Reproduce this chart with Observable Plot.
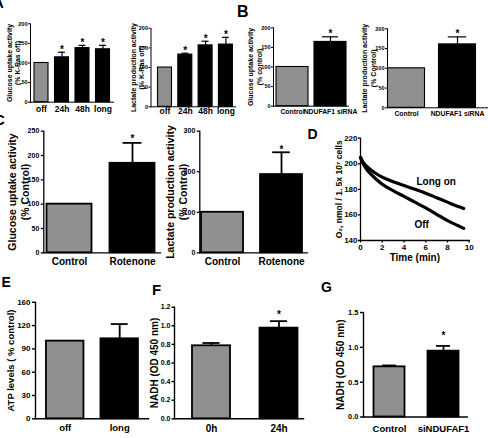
<!DOCTYPE html>
<html>
<head>
<meta charset="utf-8">
<script src="https://cdn.jsdelivr.net/npm/d3@7"></script>
<script src="https://cdn.jsdelivr.net/npm/@observablehq/plot@0.6"></script>
<style>
html, body { margin: 0; padding: 0; background: #fff; }
#fig { position: relative; width: 488px; height: 438px; overflow: hidden; background: #fff;
       font-family: "Liberation Sans", Arial, Helvetica, sans-serif; }
.letter { position: absolute; font-weight: bold; line-height: 1; color: #000; }
</style>
</head>
<body>
<div id="fig"></div>
<script>
// ---------------- DATA ----------------
// Panel A
const aCategories = ["off", "24h", "48h", "long"];
const aGlucose = [100, 114.5, 138, 135];
const aGlucoseSem = [0, 13, 7, 10];
const aLactate = [100, 133, 156.5, 158.5];
const aLactateSem = [0, 3.5, 10.5, 18.5];
const aStars = [false, true, true, true];
const aTicks = [0, 50, 100, 150, 200];
const aTickLabels = ["0", "50", "100", "150", "200"];
const aGlucoseLabel = "Glucose uptake activity\n(% K-Ras off)";
const aLactateLabel = "Lactate production activity\n(% K-Ras off)";

// Panel B
const bCategories = ["Control", "NDUFAF1 siRNA"];
const bGlucose = [100, 164];
const bGlucoseSem = [0, 13];
const bLactate = [100, 160.5];
const bLactateSem = [0, 19];
const bStars = [false, true];
const bTicks = [0, 50, 100, 150, 200];
const bTickLabels = ["0", "50", "100", "150", "200"];
const bGlucoseLabel = "Glucose uptake activity\n(% control)";
const bLactateLabel = "Lactate production activity\n(% Control)";

// Panel C
const cCategories = ["Control", "Rotenone"];
const cGlucose = [100, 184];
const cGlucoseSem = [0, 42];
const cLactate = [100, 193];
const cLactateSem = [0, 55];
const cStars = [false, true];
const cGlucoseTicks = [0, 50, 100, 150, 200, 250];
const cGlucoseTickLabels = ["0", "50", "100", "150", "200", "250"];
const cLactateTicks = [0, 100, 200, 300];
const cLactateTickLabels = ["0", "100", "200", "300"];
const cGlucoseLabel = "Glucose uptake activity\n(% Control)";
const cLactateLabel = "Lactate production activity\n(% Control)";

// Panel D
const dTime = [0, 0.25, 0.5, 1, 1.5, 2, 3, 4, 5, 6, 7, 8, 9, 9.5];
const dLongOn = [205, 201, 198.5, 195, 192, 189.5, 186, 183, 180, 177, 173.5, 170, 166.5, 165];
const dOff = [205, 200, 196.5, 191.5, 187.5, 184, 179, 174.5, 170, 165.5, 160.5, 155.5, 151.5, 149.5];
const dSeriesNames = ["Long on", "Off"];
const dSeriesLabelX = [6.96, 5.63];
const dSeriesLabelY = [185.6, 152.4];
const dXTicks = [0, 2, 4, 6, 8, 10];
const dYTicks = [140, 160, 180, 200, 220];
const dXLabel = "Time (min)";
const dYLabel = "O\u2082, nmol / 1. 5x 10\u2077 cells";

// Panel E
const eCategories = ["off", "long"];
const eAtp = [100, 103];
const eAtpSem = [0, 19];
const eStars = [false, false];
const eTicks = [0, 30, 60, 90, 120, 150];
const eTickLabels = ["0", "30", "60", "90", "120", "160"];
const eLabel = "ATP levels ( % control)";

// Panel F
const fCategories = ["0h", "24h"];
const fNadh = [0.785, 0.975];
const fNadhSem = [0.03, 0.075];
const fStars = [false, true];
const fTicks = [0, 0.2, 0.4, 0.6, 0.8, 1.0, 1.2];
const fTickLabels = ["0.0", "0.2", "0.4", "0.6", "0.8", "1.0", "1.2"];
const fLabel = "NADH (OD 450 nm)";

// Panel G
const gCategories = ["Control", "siNDUFAF1"];
const gNadh = [0.72, 0.945];
const gNadhSem = [0.02, 0.075];
const gStars = [false, true];
const gTicks = [0, 0.5, 1.0, 1.5];
const gTickLabels = ["0.0", "0.5", "1.0", "1.5"];
const gLabel = "NADH (OD 450 nm)";

const panelLetters = ["A", "B", "C", "D", "E", "F", "G"];

// ---------------- LAYOUT / STYLE ----------------
const FONT = "'Liberation Sans', Arial, Helvetica, sans-serif";
const GRAY = "#909090";
const fig = document.getElementById("fig");

const small = {capFrac: 0.5, fsTick: 5.5, fsX: 8.5, fsY: 7, fsStar: 10, tickSize: 2, tickPad: 1, lineH: 1.2, aw: 1, sw: 1.1, ew: 1.2};
const big = {capFrac: 0.42, fsTick: 7, fsX: 10, fsY: 10.5, fsStar: 10, tickSize: 2.5, tickPad: 2, lineH: 1.17, aw: 1.3, sw: 1.8, ew: 1.8};
const low = {capFrac: 0.45, fsTick: 7.5, fsX: 9.5, fsY: 9.5, fsStar: 10, tickSize: 3, tickPad: 2, lineH: 1.2, aw: 1.4, sw: 1.8, ew: 1.8};

const layA1 = {...small, box: {left: 0, top: 8, width: 118, height: 108}, L: 30, R: 113, yTop: 23.3, y0: 101.7, c0: 41, s: 20.5, w: 14, xPad: 3.5, ylabelX: 12.8, lineH: 1.19, starGap: 5.5};
const layA2 = {...small, box: {left: 118, top: 8, width: 122, height: 108}, L: 150.5, R: 235, yTop: 27.8, y0: 106.3, c0: 164.5, s: 20.3, w: 14, xPad: 1.5, ylabelX: 136.5, lineH: 1.19, starGap: 5};
const layB1 = {...small, fsX: 6.8, box: {left: 243, top: 8, width: 108, height: 108}, L: 273, R: 348, yTop: 27.3, y0: 105.7, c0: 292, s: 38, w: 32, xPad: 3.3, ylabelX: 254.5, lineH: 1.24, starGap: 6};
const layB2 = {...small, fsX: 6.8, box: {left: 355, top: 8, width: 133, height: 108}, L: 387, R: 488, yTop: 28.3, y0: 107.3, c0: 406, s: 51, w: 37, xPad: 3.3, ylabelX: 368, lineH: 1.24, starGap: 5.3};
const layC1 = {...big, box: {left: 0, top: 118, width: 165, height: 152}, L: 43.3, R: 160, yTop: 130.7, y0: 252.3, c0: 69, s: 63, w: 45, xPad: 5.5, ylabelX: 18, starGap: 6.3};
const layC2 = {...big, box: {left: 165, top: 118, width: 146, height: 152}, L: 199.3, R: 306.7, yTop: 130.7, y0: 252.3, c0: 222, s: 59, w: 42, xPad: 5.5, ylabelX: 176, starGap: 5.5};
const layE = {...low, fsTick: 8, box: {left: 0, top: 292, width: 150, height: 146}, L: 35, R: 148, yTop: 301.8, y0: 418.3, c0: 64.7, s: 54.5, w: 37.5, xPad: 5.5, ylabelX: 10, starGap: 6};
const layF = {...low, fsTick: 7, fsX: 10, fsY: 10, box: {left: 140, top: 292, width: 168, height: 146}, L: 174, R: 303, yTop: 306.7, y0: 418.3, c0: 211, s: 67.5, w: 38, tickSize: 2.5, tickPad: 1.5, xPad: 6.5, ylabelX: 153.5, starGap: 9};
const layG = {...low, fsY: 10, box: {left: 325, top: 296, width: 163, height: 142}, L: 363, R: 466.7, yTop: 312, y0: 416.5, c0: 389, s: 54, w: 31, xPad: 8.5, ylabelX: 339.5, starGap: 13};
const layD = {box: {left: 318, top: 125, width: 170, height: 145}, L: 360, R: 468.7, yTop: 137.7, y0: 240};

const letterLayout = [
  {left: -7, capTop: -3, size: 15},
  {left: 237, capTop: 6.5, size: 16},
  {left: -6, capTop: 114, size: 15},
  {left: 307.5, capTop: 128.5, size: 14},
  {left: 1.5, capTop: 276.5, size: 14},
  {left: 152, capTop: 283.5, size: 15},
  {left: 321, capTop: 281.7, size: 14}
];

function place(node, box) {
  node.style.position = "absolute";
  node.style.left = box.left + "px";
  node.style.top = box.top + "px";
  fig.appendChild(node);
}

function plotStyle() {
  return {background: "transparent", overflow: "visible", fontFamily: FONT, maxWidth: "none", color: "#000"};
}

function barPanel(cats, vals, sems, stars, ticks, tickLabels, ylabel, lay) {
  const n = cats.length;
  const gapL = lay.c0 - lay.w / 2 - lay.L;
  const gapR = lay.R - (lay.c0 + (n - 1) * lay.s + lay.w / 2);
  const paddingInner = (lay.s - lay.w) / lay.s;
  const paddingOuter = Math.max(0, (gapL + gapR) / (2 * lay.s));
  const align = gapL + gapR > 0 ? Math.min(1, Math.max(0, gapL / (gapL + gapR))) : 0.5;
  const rows = cats.map((c, i) => ({cat: c, i, v: vals[i], top: vals[i] + sems[i], sem: sems[i], star: stars[i]}));
  const errRows = rows.filter(d => d.sem > 0);
  const starRows = rows.filter(d => d.star);
  const capInset = lay.w * (1 - lay.capFrac) / 2;
  const labelMap = new Map(ticks.map((t, i) => [t, tickLabels[i]]));
  const b = lay.box;
  const node = Plot.plot({
    width: b.width,
    height: b.height,
    marginLeft: lay.L - b.left,
    marginRight: b.left + b.width - lay.R,
    marginTop: lay.yTop - b.top,
    marginBottom: b.top + b.height - lay.y0,
    style: plotStyle(),
    x: {type: "band", domain: cats, paddingInner, paddingOuter, align, round: false},
    y: {domain: [0, ticks[ticks.length - 1]]},
    marks: [
      Plot.barY(rows.filter(d => d.i === 0), {x: "cat", y: "v", fill: GRAY, stroke: "#000", strokeWidth: lay.sw}),
      Plot.barY(rows.filter(d => d.i > 0), {x: "cat", y: "v", fill: "#000", stroke: "#000", strokeWidth: lay.sw}),
      Plot.ruleX(errRows, {x: "cat", y1: "v", y2: "top", stroke: "#000", strokeWidth: lay.ew}),
      Plot.tickY(errRows, {x: "cat", y: "top", stroke: "#000", strokeWidth: lay.ew, insetLeft: capInset, insetRight: capInset}),
      Plot.text(starRows, {x: "cat", y: "top", text: () => "*", dy: -lay.starGap + 0.26 * lay.fsStar, fontSize: lay.fsStar, fontWeight: "bold"}),
      Plot.frame({anchor: "left", stroke: "#000", strokeWidth: lay.aw}),
      Plot.frame({anchor: "bottom", stroke: "#000", strokeWidth: lay.aw}),
      Plot.axisY({ticks, tickFormat: d => labelMap.get(d), tickSize: lay.tickSize, tickPadding: lay.tickPad, fontSize: lay.fsTick, fontWeight: "bold", label: null, strokeWidth: lay.aw}),
      Plot.axisX({tickSize: 0, tickPadding: lay.xPad, fontSize: lay.fsX, fontWeight: "bold", label: null}),
      Plot.text([ylabel], {text: d => d, frameAnchor: "left", dx: lay.ylabelX - lay.L, rotate: -90, fontSize: lay.fsY, fontWeight: "bold", lineHeight: lay.lineH, lineAnchor: "middle", textAnchor: "middle"})
    ]
  });
  place(node, b);
}

barPanel(aCategories, aGlucose, aGlucoseSem, aStars, aTicks, aTickLabels, aGlucoseLabel, layA1);
barPanel(aCategories, aLactate, aLactateSem, aStars, aTicks, aTickLabels, aLactateLabel, layA2);
barPanel(bCategories, bGlucose, bGlucoseSem, bStars, bTicks, bTickLabels, bGlucoseLabel, layB1);
barPanel(bCategories, bLactate, bLactateSem, bStars, bTicks, bTickLabels, bLactateLabel, layB2);
barPanel(cCategories, cGlucose, cGlucoseSem, cStars, cGlucoseTicks, cGlucoseTickLabels, cGlucoseLabel, layC1);
barPanel(cCategories, cLactate, cLactateSem, cStars, cLactateTicks, cLactateTickLabels, cLactateLabel, layC2);
barPanel(eCategories, eAtp, eAtpSem, eStars, eTicks, eTickLabels, eLabel, layE);
barPanel(fCategories, fNadh, fNadhSem, fStars, fTicks, fTickLabels, fLabel, layF);
barPanel(gCategories, gNadh, gNadhSem, gStars, gTicks, gTickLabels, gLabel, layG);

// Panel D: oxygen consumption lines
(function () {
  const lay = layD, b = lay.box;
  const longOn = dTime.map((t, i) => ({t, o2: dLongOn[i]}));
  const off = dTime.map((t, i) => ({t, o2: dOff[i]}));
  const labels = dSeriesNames.map((name, i) => ({name, t: dSeriesLabelX[i], o2: dSeriesLabelY[i]}));
  const node = Plot.plot({
    width: b.width,
    height: b.height,
    marginLeft: lay.L - b.left,
    marginRight: b.left + b.width - lay.R,
    marginTop: lay.yTop - b.top,
    marginBottom: b.top + b.height - lay.y0,
    style: plotStyle(),
    x: {domain: [0, 10]},
    y: {domain: [140, 220]},
    marks: [
      Plot.line(longOn, {x: "t", y: "o2", stroke: "#000", strokeWidth: 3.2, curve: "monotone-x"}),
      Plot.line(off, {x: "t", y: "o2", stroke: "#000", strokeWidth: 3.2, curve: "monotone-x"}),
      Plot.frame({anchor: "left", stroke: "#000", strokeWidth: 1.3}),
      Plot.frame({anchor: "bottom", stroke: "#000", strokeWidth: 1.3}),
      Plot.axisY({ticks: dYTicks, tickSize: 2, tickPadding: 1, fontSize: 8, fontWeight: "bold", label: null, strokeWidth: 1.3}),
      Plot.axisX({ticks: dXTicks, tickSize: 2.5, tickPadding: 1, fontSize: 8, fontWeight: "bold", label: null, strokeWidth: 1.3}),
      Plot.text([dXLabel], {text: d => d, frameAnchor: "bottom", lineAnchor: "middle", dy: 17.7, fontSize: 10, fontWeight: "bold"}),
      Plot.text(labels, {x: "t", y: "o2", text: "name", fontSize: 10, fontWeight: "bold"}),
      Plot.text([dYLabel], {text: d => d, frameAnchor: "left", lineAnchor: "middle", dx: -21.7, rotate: -90, fontSize: 8.5, fontWeight: "bold", textAnchor: "middle"})
    ]
  });
  place(node, b);
})();

// Panel letters
panelLetters.forEach((ch, i) => {
  const p = letterLayout[i];
  const el = document.createElement("div");
  el.className = "letter";
  el.textContent = ch;
  el.style.fontSize = p.size + "px";
  el.style.left = p.left + "px";
  el.style.top = (p.capTop - 0.13 * p.size) + "px";
  fig.appendChild(el);
});
</script>
</body>
</html>
